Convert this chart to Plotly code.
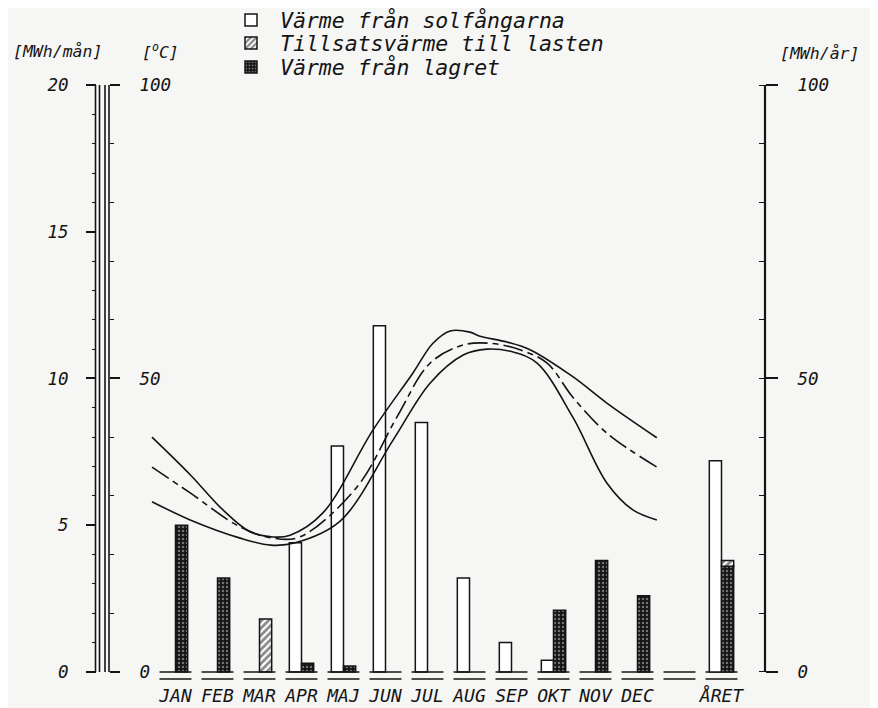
import plotly.graph_objects as go

# ---------------- data ----------------
categories = ["JAN", "FEB", "MAR", "APR", "MAJ", "JUN", "JUL", "AUG", "SEP", "OKT", "NOV", "DEC", "", "ÅRET"]
months = categories[:12]

# MWh/mån
solar = [0, 0, 0, 4.4, 7.7, 11.8, 8.5, 3.2, 1.0, 0.4, 0, 0]
tillsats = [0, 0, 1.8, 0, 0, 0, 0, 0, 0, 0, 0, 0]
lager = [5.0, 3.2, 0, 0.3, 0.2, 0, 0, 0, 0, 2.1, 3.8, 2.6]

# MWh/år
year_solar = 36
year_lager = 18
year_tillsats = 1

# temperature curves (x in month index, y in °C)
temp_hi_x = [-0.56, 0.35, 1.13, 1.77, 2.32, 2.73, 3.51, 4.70, 5.65, 6.13, 6.54, 7.01, 7.25, 7.89, 8.44, 9.46, 10.27, 11.46]
temp_hi_y = [40.0, 33.6, 27.6, 23.9, 23.0, 23.3, 27.1, 41.2, 50.9, 56.0, 58.1, 57.9, 57.2, 56.2, 54.9, 50.3, 45.8, 39.9]
temp_mid_x = [-0.56, 0.35, 1.54, 2.32, 2.96, 4.32, 5.27, 6.06, 6.85, 7.49, 8.20, 8.85, 9.46, 10.27, 11.46]
temp_mid_y = [34.9, 30.5, 24.7, 22.8, 23.0, 31.5, 43.4, 52.6, 55.7, 56.0, 54.9, 52.6, 46.8, 40.7, 34.9]
temp_lo_x = [-0.56, 0.35, 1.54, 2.27, 2.85, 3.92, 5.18, 6.06, 6.85, 7.42, 8.04, 8.61, 9.46, 10.27, 10.89, 11.46]
temp_lo_y = [29.0, 25.9, 22.8, 21.6, 22.0, 25.7, 39.5, 49.2, 54.0, 55.0, 54.5, 52.6, 43.4, 32.2, 27.6, 25.9]

legend_names = ["Värme från solfångarna", "Tillsatsvärme till lasten", "Värme från lagret"]

# ---------------- style ----------------
W, H = 878, 708
OFF = 8  # page body margin in the viewer
FONT = "DejaVu Sans Mono"
INK = "#141414"
BG = "#f6f6f4"
BAR_W = 0.29


def fx(px):
    return (px - OFF) / W


def fy(py):
    return 1 - (py - OFF) / H


def nz(v):
    return [None if a == 0 else a for a in v]


idx = list(range(len(months)))
year_idx = categories.index("ÅRET")

fig = go.Figure()

line = dict(color=INK, width=1.5)
hatch = dict(shape="/", fgcolor=INK, size=5, solidity=0.55)
dots = dict(shape=".", fgcolor="#cfcfcf", bgcolor=INK, size=4, solidity=0.3)

fig.add_trace(go.Bar(
    x=idx, y=nz(solar), width=BAR_W, offset=-BAR_W,
    name=legend_names[0], legend="legend",
    marker=dict(color="white", line=line),
))
fig.add_trace(go.Bar(
    x=idx, y=nz(tillsats), width=BAR_W, offset=0,
    name=legend_names[1], legend="legend2",
    marker=dict(color="white", line=line, pattern=hatch),
))
fig.add_trace(go.Bar(
    x=idx, y=nz(lager), width=BAR_W, offset=0,
    name=legend_names[2], legend="legend3",
    marker=dict(color=INK, line=line, pattern=dots),
))

# yearly bars on the right axis
fig.add_trace(go.Bar(
    x=[year_idx], y=[year_solar], width=BAR_W, offset=-BAR_W, yaxis="y3",
    showlegend=False, marker=dict(color="white", line=line),
))
fig.add_trace(go.Bar(
    x=[year_idx], y=[year_lager], width=BAR_W, offset=0, yaxis="y3",
    showlegend=False, marker=dict(color=INK, line=line, pattern=dots),
))
fig.add_trace(go.Bar(
    x=[year_idx], y=[year_tillsats], base=[year_lager], width=BAR_W, offset=0, yaxis="y3",
    showlegend=False, marker=dict(color="white", line=line, pattern=hatch),
))

# temperature curves
for xs, ys, dash in [(temp_hi_x, temp_hi_y, "solid"),
                     (temp_mid_x, temp_mid_y, "20px,5px,6px,5px"),
                     (temp_lo_x, temp_lo_y, "solid")]:
    fig.add_trace(go.Scatter(x=xs, y=ys, yaxis="y2", mode="lines",
                             line=dict(color=INK, width=1.6, shape="spline", smoothing=1.0, dash=dash),
                             showlegend=False))

# double base lines under every category
half = 0.38
bx, by1, by2 = [], [], []
for i in range(len(categories)):
    bx += [i - half, i + half, None]
    by1 += [0, 0, None]
    by2 += [-0.24, -0.24, None]
fig.add_trace(go.Scatter(x=bx, y=by1, mode="lines", line=dict(color=INK, width=1.5),
                         showlegend=False, hoverinfo="skip"))
fig.add_trace(go.Scatter(x=bx, y=by2, mode="lines", line=dict(color=INK, width=1.5),
                         showlegend=False, hoverinfo="skip"))

tickfont = dict(family=FONT, size=17.5, color=INK, style="italic")
legfont = dict(family=FONT, size=21.5, color=INK, style="italic")


def leg(py):
    return dict(x=fx(222), y=fy(py), xanchor="left", yanchor="middle",
                xref="container", yref="container",
                bgcolor="rgba(0,0,0,0)", font=legfont, itemwidth=48,
                borderwidth=0)


y_lo = -0.377
fig.update_layout(
    width=W, height=H,
    margin=dict(l=0, r=0, t=0, b=0, autoexpand=False),
    paper_bgcolor=BG, plot_bgcolor=BG,
    barmode="overlay",
    showlegend=True,
    legend=leg(20), legend2=leg(43), legend3=leg(67),
    xaxis=dict(domain=[fx(97), fx(765)], range=[(97 - 175.5) / 42, (765 - 175.5) / 42],
               tickmode="array", tickvals=list(range(len(categories))), ticktext=categories,
               showline=False, showgrid=False, zeroline=False, ticks="", automargin=False,
               tickfont=dict(family=FONT, size=18, color=INK, style="italic"),
               ticklabelstandoff=0),
    yaxis=dict(domain=[fy(683), fy(85)], range=[y_lo, 20],
               anchor="free", position=fx(96), side="left", automargin=False,
               tickmode="linear", tick0=0, dtick=5,
               ticks="outside", ticklen=10, tickwidth=1.5, tickcolor=INK,
               minor=dict(dtick=1, tick0=0, ticks="outside", ticklen=4, tickwidth=1.3, tickcolor=INK),
               showline=False, showgrid=False, zeroline=False,
               tickfont=tickfont, ticklabelstandoff=14),
    yaxis2=dict(overlaying="y", range=[y_lo * 5, 100],
                anchor="free", position=fx(109), side="right", automargin=False,
                tickmode="linear", tick0=0, dtick=50,
                ticks="outside", ticklen=10, tickwidth=1.5, tickcolor=INK,
                minor=dict(dtick=10, tick0=0, ticks="outside", ticklen=4, tickwidth=1.3, tickcolor=INK),
                showline=False, showgrid=False, zeroline=False,
                tickfont=tickfont, ticklabelstandoff=16),
    yaxis3=dict(overlaying="y", range=[y_lo * 5, 100],
                anchor="x", side="right", automargin=False,
                tickmode="linear", tick0=0, dtick=50,
                ticks="outside", ticklen=12, tickwidth=1.5, tickcolor=INK,
                minor=dict(dtick=10, tick0=0, ticks="inside", ticklen=6, tickwidth=1.3, tickcolor=INK),
                showline=False, showgrid=False, zeroline=False,
                tickfont=tickfont, ticklabelstandoff=16),
)

# axis spines (double lines on the left)
for px, yr, top in [(95.5, "y", 20), (99.5, "y", 20), (105, "y2", 100), (109, "y2", 100), (765, "y3", 100)]:
    fig.add_shape(type="line", xref="paper", yref=yr, x0=fx(px), x1=fx(px), y0=0, y1=top,
                  line=dict(color=INK, width=1.6 if px != 765 else 2.2))

# unit headers
hfont = dict(family=FONT, size=16.5, color=INK, style="italic")
for txt, px, py in [("[MWh/mån]", 57, 52), ("[<sup>o</sup>C]", 160, 51), ("[MWh/år]", 819, 53)]:
    fig.add_annotation(text=txt, x=fx(px), y=fy(py), xref="paper", yref="paper",
                       xanchor="center", yanchor="middle", showarrow=False, font=hfont)

fig.write_html("out.html")
